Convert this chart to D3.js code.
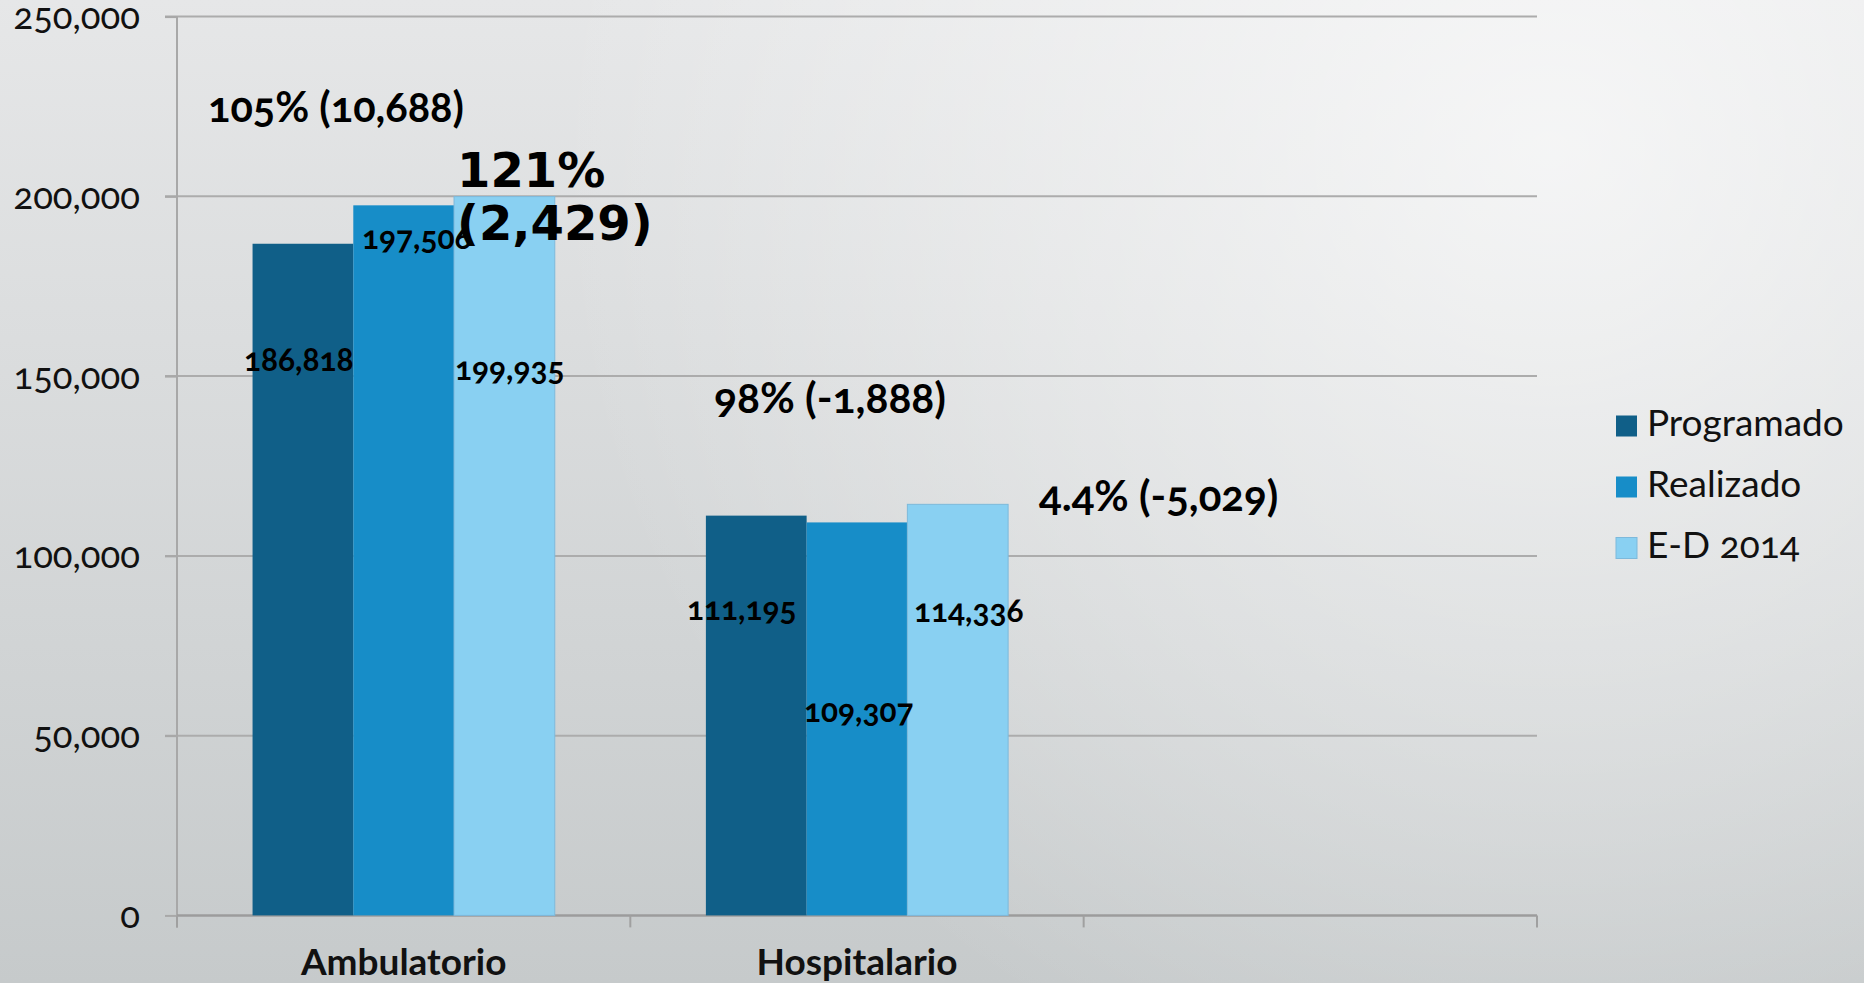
<!DOCTYPE html>
<html>
<head>
<meta charset="utf-8">
<script src="https://cdn.jsdelivr.net/npm/d3@7"></script>
<style>
  html, body { margin: 0; padding: 0; overflow: hidden; }
  svg { display: block; }
  .lato { font-family: Lato, "Open Sans", sans-serif; font-variant-numeric: oldstyle-nums; }
</style>
</head>
<body>
<script>
// ---------- data ----------
const categories = ["Ambulatorio", "Hospitalario", "_empty"];
const seriesNames = ["Programado", "Realizado", "E-D 2014"];
const programado = [186818, 111195];
const realizado = [197506, 109307];
const ed2014 = [199935, 114336];
const yTicks = [0, 50000, 100000, 150000, 200000, 250000];
const annotationTexts = ["105% (10,688)", "98% (-1,888)", "4.4% (-5,029)"];
const bigAnnotationLines = ["121%", "(2,429)"];

// ---------- layout ----------
const W = 1864, H = 983;
const plot = { left: 177, right: 1537, top: 16.6, bottom: 915.4 };
const colors = ["#105F88", "#178DC8", "#89D0F2"];

const labelPos = [
  [{ x: 244, y: 371 }, { x: 687, y: 620 }],
  [{ x: 362, y: 249 }, { x: 804, y: 722 }],
  [{ x: 455, y: 380 }, { x: 914, y: 622 }]
];
const annotationPos = [
  { x: 208, y: 122, size: 41.5 },
  { x: 714, y: 413, size: 42.5 },
  { x: 1039, y: 511, size: 42 }
];
const bigPos = { x: 457, y: [187, 240], size: 48 };

const svg = d3.select("body").append("svg").attr("width", W).attr("height", H);

// background gradient
const defs = svg.append("defs");
const lg = defs.append("linearGradient").attr("id", "bg").attr("x1", 0).attr("y1", 0).attr("x2", 0).attr("y2", 1);
lg.append("stop").attr("offset", "0%").attr("stop-color", "#e6e7e8");
lg.append("stop").attr("offset", "100%").attr("stop-color", "#c6cacb");
const rg = defs.append("radialGradient").attr("id", "hl").attr("gradientUnits", "userSpaceOnUse")
  .attr("cx", 1550).attr("cy", 150).attr("r", 1000);
rg.append("stop").attr("offset", "0%").attr("stop-color", "#ffffff").attr("stop-opacity", 0.65);
rg.append("stop").attr("offset", "55%").attr("stop-color", "#ffffff").attr("stop-opacity", 0.3);
rg.append("stop").attr("offset", "100%").attr("stop-color", "#ffffff").attr("stop-opacity", 0);
svg.append("rect").attr("width", W).attr("height", H).attr("fill", "url(#bg)");
svg.append("rect").attr("width", W).attr("height", H).attr("fill", "url(#hl)");

// scales
const x = d3.scaleBand().domain(categories).range([plot.left, plot.right]).paddingInner(0).paddingOuter(0);
const groupPad = x.bandwidth() / 6;
const xs = d3.scaleBand().domain(seriesNames).range([groupPad, x.bandwidth() - groupPad]).padding(0);
const y = d3.scaleLinear().domain([0, 250000]).range([plot.bottom, plot.top]);

// gridlines
svg.append("g").selectAll("line").data(yTicks.filter(d => d > 0)).join("line")
  .attr("x1", plot.left - 12).attr("x2", plot.right)
  .attr("y1", d => y(d)).attr("y2", d => y(d))
  .attr("stroke", "#acacac").attr("stroke-width", 2);

// y axis
const yAxis = d3.axisLeft(y).tickValues(yTicks).tickSize(12).tickPadding(25)
  .tickFormat(d3.format(","));
const gy = svg.append("g").attr("transform", `translate(${plot.left},0)`).call(yAxis);
gy.select(".domain").remove();
gy.append("line").attr("x1", 0).attr("x2", 0).attr("y1", plot.top).attr("y2", plot.bottom + 12)
  .attr("stroke", "#a8a8a8").attr("stroke-width", 2);
gy.selectAll(".tick line").attr("stroke", "#a8a8a8").attr("stroke-width", 2);
gy.selectAll(".tick text").attr("class", "lato").attr("font-size", 36.5).attr("fill", "#111")
  .attr("dy", "0.33em");

// x axis
const xAxis = d3.axisBottom(x).tickSize(0).tickFormat(d => d === "_empty" ? "" : d).tickPadding(60);
const gx = svg.append("g").attr("transform", `translate(0,${plot.bottom})`).call(xAxis);
gx.select(".domain").attr("stroke", "#9c9c9c").attr("stroke-width", 2.5)
  .attr("d", `M${plot.left},0H${plot.right}`);
gx.selectAll(".tick text").attr("class", "lato").attr("font-size", 37).attr("font-weight", 700)
  .attr("fill", "#111").attr("dy", "0").attr("y", 60);
const boundaries = categories.map(c => x(c)).concat([plot.right]);
gx.append("g").selectAll("line").data(boundaries).join("line")
  .attr("x1", d => d).attr("x2", d => d).attr("y1", 0).attr("y2", 12)
  .attr("stroke", "#a0a0a0").attr("stroke-width", 2);

// bars
const seriesValues = [programado, realizado, ed2014];
const barData = [];
seriesValues.forEach((vals, si) => vals.forEach((v, ci) => barData.push({ si, ci, v })));
svg.append("g").selectAll("rect").data(barData).join("rect")
  .attr("x", d => x(categories[d.ci]) + xs(seriesNames[d.si]))
  .attr("width", xs.bandwidth())
  .attr("y", d => y(d.v))
  .attr("height", d => y(0) - y(d.v))
  .attr("fill", d => colors[d.si])
  .attr("stroke", d => d.si === 2 ? "#7db9db" : "none")
  .attr("stroke-width", 1);

// data labels
svg.append("g").selectAll("text").data(barData).join("text")
  .attr("class", "lato")
  .attr("x", d => labelPos[d.si][d.ci].x)
  .attr("y", d => labelPos[d.si][d.ci].y)
  .attr("font-size", 31.5).attr("font-weight", 700).attr("fill", "#000")
  .text(d => d3.format(",")(d.v));

// annotations
svg.append("g").selectAll("text").data(annotationTexts).join("text")
  .attr("class", "lato")
  .attr("x", (d, i) => annotationPos[i].x)
  .attr("y", (d, i) => annotationPos[i].y)
  .attr("font-size", (d, i) => annotationPos[i].size)
  .attr("font-weight", 700).attr("fill", "#000")
  .text(d => d);

svg.append("g").selectAll("text").data(bigAnnotationLines).join("text")
  .attr("x", bigPos.x).attr("y", (d, i) => bigPos.y[i])
  .attr("font-family", "'DejaVu Sans', sans-serif").attr("font-weight", 700)
  .attr("font-size", bigPos.size).attr("fill", "#000")
  .text(d => d);

// legend
const legend = svg.append("g").attr("transform", "translate(1616,0)");
const legY = [426, 487, 548];
const lgItems = legend.selectAll("g").data(seriesNames).join("g")
  .attr("transform", (d, i) => `translate(0,${legY[i]})`);
lgItems.append("rect").attr("x", 0).attr("y", -10.5).attr("width", 21).attr("height", 21)
  .attr("fill", (d, i) => colors[i])
  .attr("stroke", (d, i) => i === 2 ? "#7db9db" : "none");
lgItems.append("text").attr("class", "lato").attr("x", 31).attr("y", 10)
  .attr("font-size", 37).attr("fill", "#111").text(d => d);
</script>
</body>
</html>
